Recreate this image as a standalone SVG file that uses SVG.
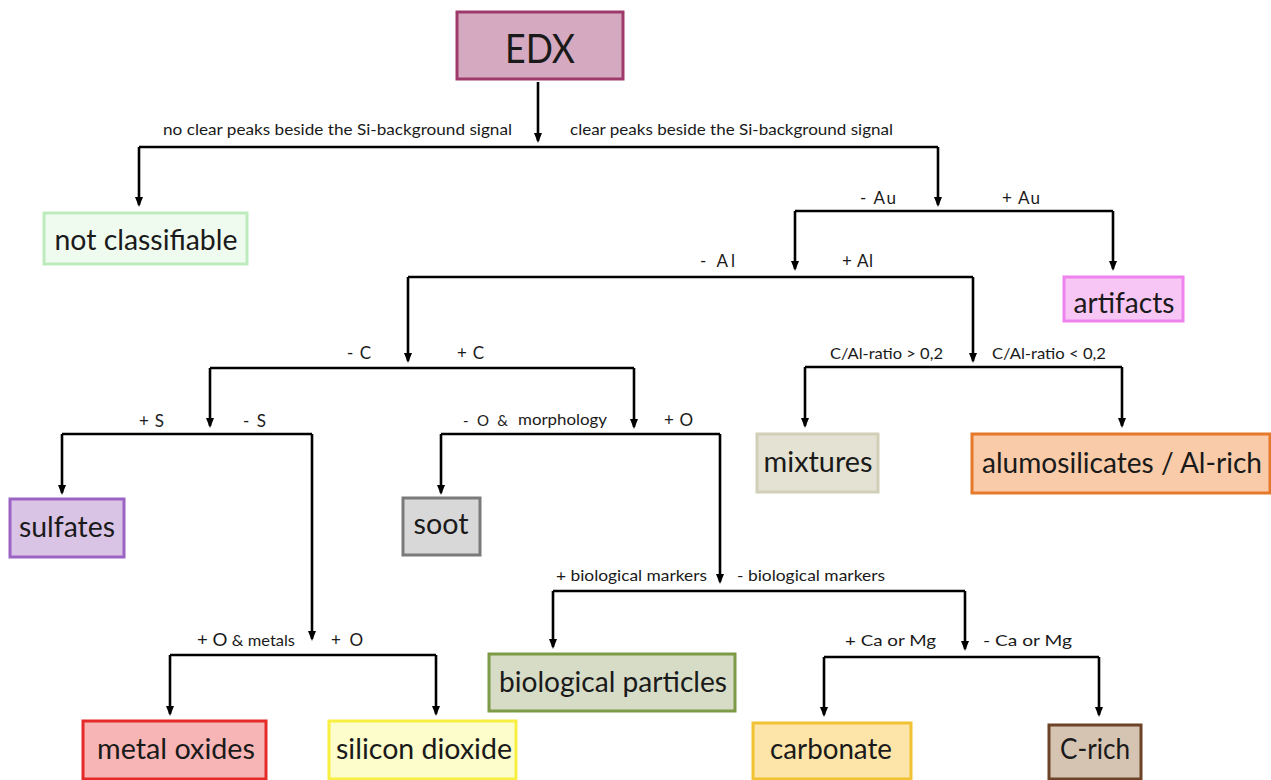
<svg xmlns="http://www.w3.org/2000/svg" width="1271" height="780" viewBox="0 0 1271 780">
<defs>
<marker id="ah" viewBox="0 0 10 8" markerWidth="10" markerHeight="8" refX="8" refY="4" orient="auto" markerUnits="userSpaceOnUse">
<path d="M0,0 L10,4 L0,8 z" fill="#000"/>
</marker>
<style>
.c{fill:none;stroke:#000;stroke-width:2.6}
.a{marker-end:url(#ah)}
.n{stroke-width:3}
.t{font-family:Lato,"Open Sans","Noto Sans",sans-serif;fill:#1a1a1a;text-anchor:middle}
.big{font-size:28px}
.lbl{font-family:Lato,"Open Sans","Noto Sans",sans-serif;fill:#1a1a1a;font-size:15px}
.s{font-size:17px}
</style>
</defs>
<rect width="1271" height="780" fill="#fff"/>

<g id="connectors">
<path class="c a" d="M538,82 V141"/>
<path class="c" d="M139,147 H938"/>
<path class="c a" d="M139,147 V205"/>
<path class="c a" d="M938,147 V205"/>

<path class="c" d="M795,211 H1113"/>
<path class="c a" d="M795,211 V269"/>
<path class="c a" d="M1113,211 V269"/>

<path class="c" d="M408,277 H973"/>
<path class="c a" d="M408,277 V361"/>
<path class="c a" d="M973,277 V361"/>

<path class="c" d="M805,367 H1122"/>
<path class="c a" d="M805,367 V426"/>
<path class="c a" d="M1122,367 V426"/>

<path class="c" d="M210,368 H634"/>
<path class="c a" d="M210,368 V426"/>
<path class="c a" d="M634,368 V427"/>

<path class="c" d="M62,434 H312"/>
<path class="c a" d="M62,434 V493"/>
<path class="c a" d="M312,434 V639"/>

<path class="c" d="M441,434 H720"/>
<path class="c a" d="M441,434 V493"/>
<path class="c a" d="M720,434 V582"/>

<path class="c" d="M553,591 H965"/>
<path class="c a" d="M553,591 V647"/>
<path class="c a" d="M965,591 V649"/>

<path class="c" d="M170,655 H436"/>
<path class="c a" d="M170,655 V714"/>
<path class="c a" d="M436,655 V714"/>

<path class="c" d="M824,657 H1099"/>
<path class="c a" d="M824,657 V715"/>
<path class="c a" d="M1099,657 V715"/>
</g>

<g id="labels">
<text class="lbl" x="163" y="135" textLength="349" lengthAdjust="spacingAndGlyphs">no clear peaks beside the Si-background signal</text>
<text class="lbl" x="570" y="135" textLength="323" lengthAdjust="spacingAndGlyphs">clear peaks beside the Si-background signal</text>
<text class="lbl s" x="860" y="204" textLength="36" lengthAdjust="spacing">- Au</text>
<text class="lbl s" x="1002" y="204" textLength="38" lengthAdjust="spacing">+ Au</text>
<text class="lbl s" x="700" y="267" textLength="35" lengthAdjust="spacing">- Al</text>
<text class="lbl s" x="842" y="267" textLength="31" lengthAdjust="spacing">+ Al</text>
<text class="lbl" x="830" y="359" textLength="113" lengthAdjust="spacingAndGlyphs">C/Al-ratio &gt; 0,2</text>
<text class="lbl" x="992" y="359" textLength="114" lengthAdjust="spacingAndGlyphs">C/Al-ratio &lt; 0,2</text>
<text class="lbl s" x="347" y="359" textLength="24" lengthAdjust="spacing">- C</text>
<text class="lbl s" x="457" y="359" textLength="27" lengthAdjust="spacing">+ C</text>
<text class="lbl s" x="139" y="427" textLength="25" lengthAdjust="spacing">+ S</text>
<text class="lbl s" x="243" y="427" textLength="23" lengthAdjust="spacing">- S</text>
<text class="lbl" x="463" y="426" font-size="18" textLength="45" lengthAdjust="spacing">- O &amp;</text>
<text class="lbl" x="518" y="425" font-size="14" textLength="89" lengthAdjust="spacingAndGlyphs">morphology</text>
<text class="lbl s" x="664" y="426" textLength="29" lengthAdjust="spacing">+ O</text>
<text class="lbl" x="556" y="581" textLength="151" lengthAdjust="spacingAndGlyphs">+ biological markers</text>
<text class="lbl" x="737" y="581" textLength="148" lengthAdjust="spacingAndGlyphs">- biological markers</text>
<text class="lbl" x="197" y="646" textLength="98" lengthAdjust="spacingAndGlyphs"><tspan font-size="17">+ O</tspan> &amp; metals</text>
<text class="lbl s" x="331" y="646" textLength="32" lengthAdjust="spacing">+ O</text>
<text class="lbl" x="845" y="646" textLength="91" lengthAdjust="spacingAndGlyphs" font-size="16.5">+ Ca or Mg</text>
<text class="lbl" x="983" y="646" textLength="89" lengthAdjust="spacingAndGlyphs" font-size="16.5">- Ca or Mg</text>
</g>

<g id="n-edx">
<rect class="n" x="457" y="12" width="166" height="67" fill="#d5a9c0" stroke="#9d3a6b"/>
<text class="t" x="540" y="63" font-size="40" textLength="70" lengthAdjust="spacingAndGlyphs">EDX</text>
</g>
<g id="n-notclass">
<rect class="n" x="44" y="213" width="203" height="51" fill="#effbef" stroke="#bdebbd"/>
<text class="t big" x="146" y="250" textLength="183" lengthAdjust="spacingAndGlyphs">not classifiable</text>
</g>
<g id="n-artifacts">
<rect class="n" x="1064" y="277" width="119" height="44" fill="#f8c6f5" stroke="#ee82ee"/>
<text class="t big" x="1124" y="313" textLength="101" lengthAdjust="spacingAndGlyphs">artifacts</text>
</g>
<g id="n-mixtures">
<rect class="n" x="757" y="434" width="121" height="58" fill="#e4e2d2" stroke="#d2cfb9"/>
<text class="t big" x="818" y="472" textLength="109" lengthAdjust="spacingAndGlyphs">mixtures</text>
</g>
<g id="n-alumo">
<rect class="n" x="972" y="434" width="298" height="59" fill="#f9cba8" stroke="#e5792a"/>
<text class="t big" x="1122" y="473" textLength="280" lengthAdjust="spacingAndGlyphs">alumosilicates / Al-rich</text>
</g>
<g id="n-sulfates">
<rect class="n" x="10" y="499" width="114" height="58" fill="#dac4e6" stroke="#9a63c4"/>
<text class="t big" x="67" y="537" textLength="96" lengthAdjust="spacingAndGlyphs">sulfates</text>
</g>
<g id="n-soot">
<rect class="n" x="403" y="498" width="77" height="57" fill="#d8d8d8" stroke="#7a7a7a"/>
<text class="t big" x="441" y="534" textLength="55" lengthAdjust="spacingAndGlyphs">soot</text>
</g>
<g id="n-bio">
<rect class="n" x="489" y="654" width="246" height="57" fill="#d7dcc7" stroke="#7d9a45"/>
<text class="t big" x="613" y="692" textLength="228" lengthAdjust="spacingAndGlyphs">biological particles</text>
</g>
<g id="n-metal">
<rect class="n" x="83" y="721" width="183" height="58" fill="#f8b5b5" stroke="#e52a2a"/>
<text class="t big" x="176" y="759" textLength="158" lengthAdjust="spacingAndGlyphs">metal oxides</text>
</g>
<g id="n-silicon">
<rect class="n" x="329" y="721" width="187" height="58" fill="#fdfccb" stroke="#f7f040"/>
<text class="t big" x="424" y="759" textLength="176" lengthAdjust="spacingAndGlyphs">silicon dioxide</text>
</g>
<g id="n-carbonate">
<rect class="n" x="753" y="723" width="158" height="56" fill="#fde4a9" stroke="#f1c232"/>
<text class="t big" x="831" y="759" textLength="122" lengthAdjust="spacingAndGlyphs">carbonate</text>
</g>
<g id="n-crich">
<rect class="n" x="1049" y="725" width="92" height="54" fill="#d6c4b3" stroke="#6d4328"/>
<text class="t big" x="1095" y="759" textLength="70" lengthAdjust="spacingAndGlyphs">C-rich</text>
</g>
</svg>
